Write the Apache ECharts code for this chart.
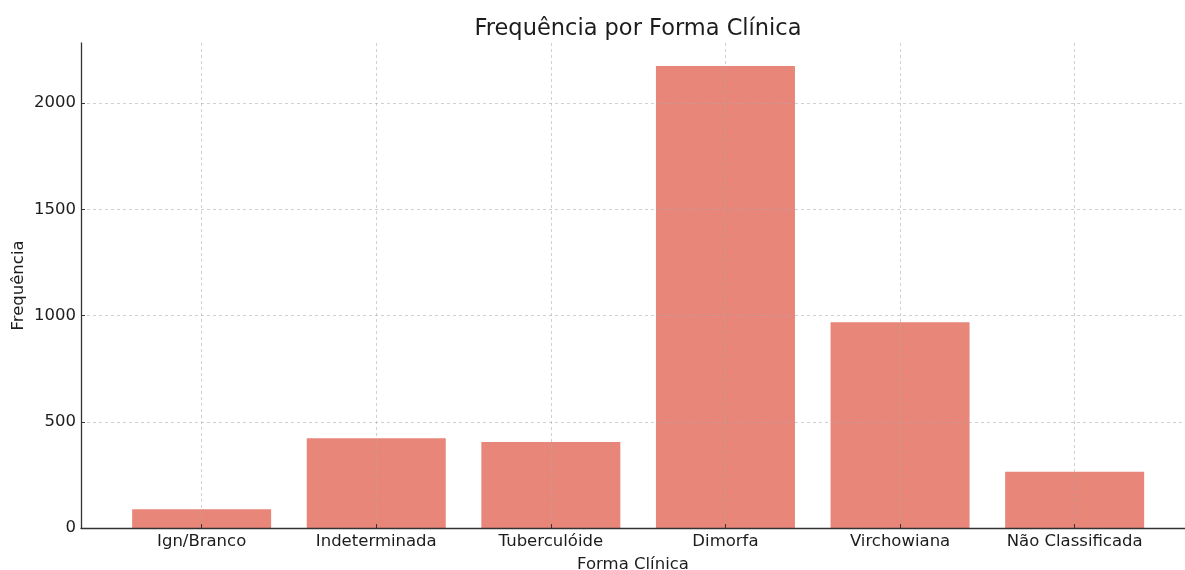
<!DOCTYPE html>
<html>
<head>
<meta charset="utf-8">
<script src="https://cdn.jsdelivr.net/npm/echarts@6/dist/echarts.min.js"></script>
<style>
  html, body { margin: 0; padding: 0; background: #fff; }
  #chart { width: 1185px; height: 570px; }
</style>
</head>
<body>
<div id="chart"></div>
<script>
const categories = ['Ign/Branco', 'Indeterminada', 'Tuberculóide', 'Dimorfa', 'Virchowiana', 'Não Classificada']
const frequencies = [88, 422, 405, 2175, 968, 265]
const yTicks = [0, 500, 1000, 1500, 2000]

const FONT = 'DejaVu Sans'
const TEXT = '#1c1c1c'
const GRID_LINE = { show: true, lineStyle: { color: 'rgba(170,170,170,0.55)', type: [3, 3], width: 1 } }

const positions = categories.map((_, i) => i)
const chart = echarts.init(document.getElementById('chart'))

chart.setOption({
  animation: false,
  textStyle: { fontFamily: FONT },
  title: {
    text: 'Frequência por Forma Clínica',
    left: 633,
    textAlign: 'center',
    top: 13,
    textStyle: { fontFamily: FONT, fontSize: 22.5, fontWeight: 'normal', color: TEXT }
  },
  grid: { left: 81, right: 0, top: 43, bottom: 42, outerBoundsMode: 'none', containLabel: false },
  xAxis: {
    type: 'value',
    min: -0.691,
    max: 5.632,
    z: 3,
    name: 'Forma Clínica',
    nameLocation: 'middle',
    nameGap: 28,
    nameTextStyle: { fontFamily: FONT, fontSize: 16.5, color: TEXT },
    axisLine: { show: true, onZero: false, lineStyle: { color: '#333', width: 1.3 } },
    axisTick: { show: true, inside: true, length: 4, customValues: positions, lineStyle: { color: '#333' } },
    axisLabel: {
      customValues: positions,
      formatter: v => categories[Math.round(v)] ?? '',
      fontFamily: FONT, fontSize: 16.5, color: TEXT, margin: 5
    },
    splitLine: GRID_LINE
  },
  yAxis: {
    type: 'value',
    min: 0,
    max: 2283,
    z: 3,
    name: 'Frequência',
    nameLocation: 'middle',
    nameRotate: 90,
    nameGap: 54,
    nameMoveOverlap: false,
    nameTextStyle: { fontFamily: FONT, fontSize: 16.5, color: TEXT },
    axisLine: { show: true, onZero: false, lineStyle: { color: '#333', width: 1.3 } },
    axisTick: { show: true, inside: true, length: 4, customValues: yTicks, lineStyle: { color: '#333' } },
    axisLabel: {
      customValues: yTicks,
      formatter: v => String(v),
      fontFamily: FONT, fontSize: 16.5, color: TEXT, margin: 5
    },
    splitLine: GRID_LINE
  },
  series: [{
    type: 'bar',
    data: frequencies.map((v, i) => [i, v]),
    barWidth: 139,
    itemStyle: { color: '#e8867a' },
    z: 2
  }]
})
</script>
</body>
</html>
